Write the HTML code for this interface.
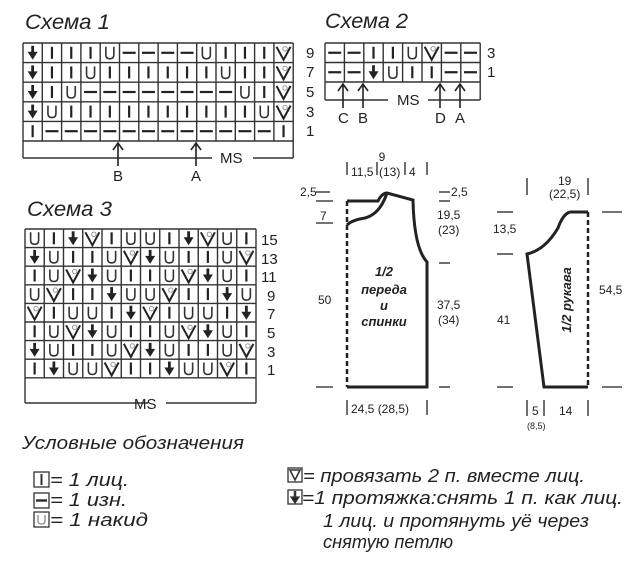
<!DOCTYPE html>
<html><head><meta charset="utf-8"><style>
html,body{margin:0;padding:0;background:#fff;width:640px;height:562px;overflow:hidden}
svg{display:block}
text{font-family:"Liberation Sans",sans-serif;fill:#222}
.t{font-style:italic;font-size:21px}
.n{font-size:15px}
.s{font-size:12px}
.it{font-style:italic;font-size:18px}
</style></head><body>
<svg id="s" width="640" height="562" viewBox="0 0 640 562" xmlns="http://www.w3.org/2000/svg">
<g id="g"></g>
<text class="t" x="25" y="29" textLength="85" lengthAdjust="spacingAndGlyphs">Схема 1</text>
<text class="t" x="325" y="28" textLength="83" lengthAdjust="spacingAndGlyphs">Схема 2</text>
<text class="t" x="27" y="216" textLength="85" lengthAdjust="spacingAndGlyphs">Схема 3</text>
<text class="n" x="306" y="58">9</text><text class="n" x="306" y="77">7</text><text class="n" x="306" y="97">5</text><text class="n" x="306" y="117">3</text><text class="n" x="306" y="136">1</text>
<text class="n" x="220" y="163">MS</text>
<text class="n" x="113" y="181">B</text><text class="n" x="191" y="181">A</text>
<text class="n" x="487" y="58">3</text><text class="n" x="487" y="77">1</text>
<text class="n" x="397" y="105">MS</text>
<text class="n" x="338" y="123">C</text><text class="n" x="358" y="123">B</text><text class="n" x="435" y="123">D</text><text class="n" x="455" y="123">A</text>
<text class="n" x="261" y="245">15</text><text class="n" x="261" y="264">13</text><text class="n" x="261" y="282">11</text><text class="n" x="267" y="301">9</text><text class="n" x="267" y="319">7</text><text class="n" x="267" y="338">5</text><text class="n" x="267" y="357">3</text><text class="n" x="267" y="375">1</text>
<text class="n" x="134" y="409">MS</text>
<g stroke="#222" fill="none">
<path d="M347 201 H378 Q382 193 387 193 L413 200 Q414 248 427 262 V387 H347" stroke-width="3"/>
<path d="M347 225 Q352 220 365 218 Q380 214 387 193" stroke-width="3"/>
<line x1="347" y1="201" x2="347" y2="387" stroke-width="2.5" stroke-dasharray="5,3"/>
<g stroke-width="1.3">
<line x1="316" y1="192" x2="330" y2="192"/><line x1="316" y1="201" x2="333" y2="201"/><line x1="316" y1="223" x2="333" y2="223"/><line x1="316" y1="387" x2="333" y2="387"/>
<line x1="439" y1="192" x2="450" y2="192"/><line x1="439" y1="201" x2="450" y2="201"/><line x1="439" y1="263" x2="450" y2="263"/><line x1="439" y1="387" x2="450" y2="387"/>
<line x1="347" y1="162" x2="347" y2="175"/><line x1="377" y1="162" x2="377" y2="175"/><line x1="405" y1="162" x2="405" y2="175"/><line x1="427" y1="162" x2="427" y2="175"/>
<line x1="347" y1="400" x2="347" y2="415"/><line x1="427" y1="400" x2="427" y2="415"/>
</g>
<path d="M570 212 H588 M588 387 H544 L527 254 Q545 250 558 228 Q563 214 570 212" stroke-width="3"/>
<line x1="588" y1="212" x2="588" y2="387" stroke-width="2.5" stroke-dasharray="5,3"/>
<g stroke-width="1.3">
<line x1="497" y1="212" x2="513" y2="212"/><line x1="497" y1="254" x2="513" y2="254"/><line x1="497" y1="387" x2="513" y2="387"/>
<line x1="602" y1="212" x2="622" y2="212"/><line x1="602" y1="387" x2="622" y2="387"/>
<line x1="527" y1="178" x2="527" y2="195"/><line x1="588" y1="178" x2="588" y2="195"/>
<line x1="527" y1="400" x2="527" y2="416"/><line x1="544" y1="400" x2="544" y2="416"/><line x1="588" y1="400" x2="588" y2="416"/>
</g>
</g>
<text class="s" x="382" y="161" text-anchor="middle">9</text>
<text class="s" x="351" y="176">11,5</text><text class="s" x="379" y="176">(13)</text><text class="s" x="409" y="176">4</text>
<text class="s" x="300" y="196">2,5</text><text class="s" x="320" y="220">7</text>
<text class="s" x="451" y="196">2,5</text>
<text class="s" x="437" y="219">19,5</text><text class="s" x="438" y="234">(23)</text>
<text class="s" x="318" y="304">50</text>
<text class="s" x="437" y="309">37,5</text><text class="s" x="438" y="324">(34)</text>
<text class="s" x="351" y="413">24,5 (28,5)</text>
<g style="font-style:italic;font-weight:bold;font-size:13px">
<text x="384" y="276" text-anchor="middle">1/2</text>
<text x="384" y="294" text-anchor="middle">переда</text>
<text x="384" y="310" text-anchor="middle">и</text>
<text x="384" y="326" text-anchor="middle">спинки</text>
<text x="0" y="0" text-anchor="middle" transform="translate(571,300) rotate(-90)">1/2 рукава</text>
</g>
<text class="s" x="558" y="185">19</text><text class="s" x="549" y="198">(22,5)</text>
<text class="s" x="493" y="233">13,5</text>
<text class="s" x="599" y="294">54,5</text>
<text class="s" x="497" y="324">41</text>
<text class="s" x="532" y="415">5</text><text class="s" x="559" y="415">14</text>
<text x="527" y="429" style="font-size:9px">(8,5)</text>
<text class="it" x="22" y="449" textLength="222" lengthAdjust="spacingAndGlyphs">Условные обозначения</text>
<g fill="none" stroke="#333" stroke-width="1.3">
<rect x="34" y="472" width="15" height="15"/><line x1="41.5" y1="474" x2="41.5" y2="485" stroke-width="2"/>
<rect x="34" y="493" width="15" height="15"/><line x1="36" y1="500.5" x2="47" y2="500.5" stroke-width="2.5"/>
<rect x="34" y="512" width="15" height="15"/><path d="M38 515 V521 Q38 524 41.5 524 Q45 524 45 521 V515" stroke="#888"/>
<rect x="288" y="468" width="14" height="14"/><path d="M290 470 L295 480 L300 470 Z" stroke-width="1.6"/>
<rect x="288" y="490" width="14" height="14"/><line x1="295" y1="491" x2="295" y2="498" stroke-width="2.5"/><path d="M291 497 L299 497 L295 503Z" fill="#222"/>
</g>
<text class="it" x="50" y="486" textLength="79" lengthAdjust="spacingAndGlyphs">= 1 лиц.</text>
<text class="it" x="50" y="506" textLength="77" lengthAdjust="spacingAndGlyphs">= 1 изн.</text>
<text class="it" x="50" y="526" textLength="98" lengthAdjust="spacingAndGlyphs">= 1 накид</text>
<text class="it" x="303" y="482" textLength="282" lengthAdjust="spacingAndGlyphs">= провязать 2 п. вместе лиц.</text>
<text class="it" x="302" y="504" textLength="321" lengthAdjust="spacingAndGlyphs">=1 протяжка:снять 1 п. как лиц.</text>
<text class="it" x="323" y="527" textLength="266" lengthAdjust="spacingAndGlyphs">1 лиц. и протянуть уё через</text>
<text class="it" x="323" y="548" textLength="130" lengthAdjust="spacingAndGlyphs">снятую петлю</text>
</svg>
<script>
var NS="http://www.w3.org/2000/svg",G=document.getElementById("g");
function el(n,a){var e=document.createElementNS(NS,n);for(var k in a)e.setAttribute(k,a[k]);G.appendChild(e);return e;}
function sym(c,x,y){
 var st="#222";
 if(c=="I")el("line",{x1:x,y1:y-6,x2:x,y2:y+6,stroke:st,"stroke-width":2.2});
 else if(c=="-")el("line",{x1:x-6.5,y1:y,x2:x+6.5,y2:y,stroke:st,"stroke-width":2.2});
 else if(c=="U")el("path",{d:"M"+(x-4)+" "+(y-6)+" V"+(y+2)+" Q"+(x-4)+" "+(y+6)+" "+x+" "+(y+6)+" Q"+(x+4)+" "+(y+6)+" "+(x+4)+" "+(y+2)+" V"+(y-6),stroke:"#333",fill:"none","stroke-width":1.6});
 else if(c=="V"){el("path",{d:"M"+(x-7)+" "+(y-6)+" L"+x+" "+(y+7)+" L"+(x+7)+" "+(y-6),stroke:st,fill:"none","stroke-width":2});
   el("circle",{cx:x+1.5,cy:y-4,r:2.2,stroke:"#999",fill:"none","stroke-width":1});}
 else if(c=="D"){el("line",{x1:x,y1:y-7,x2:x,y2:y+1,stroke:st,"stroke-width":2.8});
   el("path",{d:"M"+(x-5)+" "+(y-1)+" L"+(x+5)+" "+(y-1)+" L"+x+" "+(y+7)+"Z",fill:st});}
}
function chart(x0,y0,cw,rh,rows,msb,gap){
 var cols=rows[0].length,w=cw*cols,h=rh*rows.length,lw=1.4;
 for(var r=0;r<rows.length;r++)for(var c=0;c<cols;c++)sym(rows[r][c],x0+cw*c+cw/2,y0+rh*r+rh/2);
 for(var c=0;c<=cols;c++)el("line",{x1:x0+cw*c,y1:y0,x2:x0+cw*c,y2:y0+h,stroke:"#333","stroke-width":lw});
 for(var r=0;r<=rows.length;r++)el("line",{x1:x0,y1:y0+rh*r,x2:x0+w,y2:y0+rh*r,stroke:"#333","stroke-width":lw});
 el("line",{x1:x0,y1:y0+h,x2:x0,y2:msb,stroke:"#333","stroke-width":lw});
 el("line",{x1:x0+w,y1:y0+h,x2:x0+w,y2:msb,stroke:"#333","stroke-width":lw});
 el("line",{x1:x0,y1:msb,x2:gap[0],y2:msb,stroke:"#333","stroke-width":lw});
 el("line",{x1:gap[1],y1:msb,x2:x0+w,y2:msb,stroke:"#333","stroke-width":lw});
}
function arrow(x,y1,y2){el("line",{x1:x,y1:y1,x2:x,y2:y2+1,stroke:"#222","stroke-width":1.6});
 el("path",{d:"M"+(x-5)+" "+(y2+7)+" L"+x+" "+y2+" L"+(x+5)+" "+(y2+7),stroke:"#222",fill:"none","stroke-width":1.6});}
chart(23,43,19.3,19.6,["DIIIU----UIIIV","DIIUIIIIIIUIIV","DIU--------UIV","DUIIIIIIIIIIUV","I------------I"],158,[212,253]);
arrow(118,166,143);arrow(196,166,143);
chart(325,43,19.4,19.5,["--IIUV--","--DUII--"],100,[388,428]);
arrow(343,108,84);arrow(363,108,84);arrow(440,108,84);arrow(460,108,84);
chart(25,229,19.25,18.6,["UIDVIUUIDVUI","DUIIUVDUIIUV","IUVDUIIUVDUI","UVIIDUUVIIDU","VIUUIDVIUUID","IUVDUIIUVDUI","DUIIUVDUIIUV","IDUUVIIDUUVI"],403,[148,166]);
</script>
</body></html>
